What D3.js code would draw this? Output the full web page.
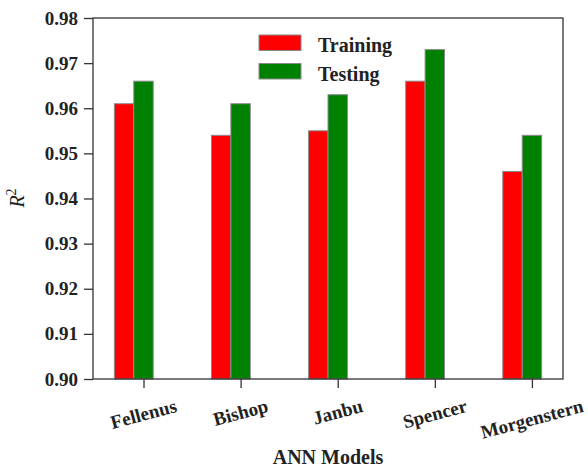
<!DOCTYPE html>
<html>
<head>
<meta charset="utf-8">
<script src="https://cdn.jsdelivr.net/npm/d3@7"></script>
<style>
  body { margin: 0; background: #fff; }
  text { font-family: "Liberation Serif", "Times New Roman", serif; fill: #222; }
</style>
</head>
<body>
<svg id="chart" width="588" height="467"></svg>
<script>
// chart data
const models = ["Fellenus", "Bishop", "Janbu", "Spencer", "Morgenstern"];
const training = [0.961, 0.954, 0.955, 0.966, 0.946];
const testing = [0.966, 0.961, 0.963, 0.973, 0.954];
const yTicks = [0.90, 0.91, 0.92, 0.93, 0.94, 0.95, 0.96, 0.97, 0.98];
const seriesNames = ["Training", "Testing"];
const seriesColors = ["#ff0000", "#008000"];

const mLeft = 93, mRight = 563, mTop = 18, mBottom = 379;
const svg = d3.select("#chart");

// x in data units: group i at i, red bar centered at i-0.2, green at i
const barW = 0.2;
const x = d3.scaleLinear().domain([-0.52, 4.32]).range([mLeft, mRight]);
const y = d3.scaleLinear().domain([0.90, 0.98]).range([mBottom, mTop]);

// bars
const series = [training, testing];
series.forEach((vals, s) => {
  svg.append("g").selectAll("rect").data(vals).enter().append("rect")
    .attr("x", (d, i) => x(i - 0.2 + s * 0.2 - barW / 2))
    .attr("width", x(barW) - x(0))
    .attr("y", d => y(d))
    .attr("height", d => y(0.90) - y(d))
    .attr("fill", seriesColors[s])
    .attr("stroke", "#8a8a8a")
    .attr("stroke-width", 1);
});

// frame
svg.append("rect")
  .attr("x", mLeft).attr("y", mTop)
  .attr("width", mRight - mLeft).attr("height", mBottom - mTop)
  .attr("fill", "none").attr("stroke", "#333").attr("stroke-width", 1.3);

// y axis
const yAxis = d3.axisLeft(y).tickValues(yTicks).tickFormat(d3.format(".2f")).tickSize(9).tickPadding(6);
const gy = svg.append("g").attr("transform", `translate(${mLeft},0)`).call(yAxis);
gy.select(".domain").remove();
gy.selectAll(".tick line").attr("stroke", "#333").attr("stroke-width", 1.3);
gy.selectAll(".tick text")
  .style("font-family", "Liberation Serif, serif")
  .style("font-weight", "bold")
  .style("font-size", "19px")
  .attr("fill", "#222");

// x axis
const xAxis = d3.axisBottom(x).tickValues(d3.range(models.length)).tickFormat("").tickSize(9);
const gx = svg.append("g").attr("transform", `translate(0,${mBottom})`).call(xAxis);
gx.select(".domain").remove();
gx.selectAll(".tick line").attr("stroke", "#333").attr("stroke-width", 1.3);

// rotated tick labels, top of rotated box placed under the tick
const ang = 15 * Math.PI / 180;
models.forEach((m, i) => {
  const t = svg.append("text")
    .attr("text-anchor", "middle")
    .attr("dominant-baseline", "central")
    .style("font-weight", "bold")
    .style("font-size", "19px")
    .text(m);
  const w = t.node().getComputedTextLength();
  const h = 15;
  const bh = w * Math.sin(ang) + h * Math.cos(ang);
  const cx = x(i), cy = 398 + bh / 2;
  t.attr("x", cx).attr("y", cy).attr("transform", `rotate(-15,${cx},${cy})`);
});

// axis titles
svg.append("text")
  .attr("x", (mLeft + mRight) / 2).attr("y", 464)
  .attr("text-anchor", "middle")
  .style("font-weight", "bold").style("font-size", "20px")
  .text("ANN Models");

const yl = svg.append("text")
  .attr("transform", "translate(24,198) rotate(-90)")
  .attr("text-anchor", "middle")
  .style("font-style", "italic").style("font-size", "20px");
yl.append("tspan").text("R");
yl.append("tspan").attr("dy", -8).style("font-size", "14px").style("font-style", "normal").text("2");

// legend
const lg = svg.append("g").attr("transform", "translate(259,35)");
seriesNames.forEach((n, s) => {
  lg.append("rect")
    .attr("x", 0).attr("y", s * 28.5)
    .attr("width", 42).attr("height", 15.5)
    .attr("fill", seriesColors[s])
    .attr("stroke", "#8a8a8a").attr("stroke-width", 1);
  lg.append("text")
    .attr("x", 59).attr("y", s * 28.5 + 10)
    .attr("dominant-baseline", "central")
    .style("font-weight", "bold").style("font-size", "20px")
    .text(n);
});
</script>
</body>
</html>
